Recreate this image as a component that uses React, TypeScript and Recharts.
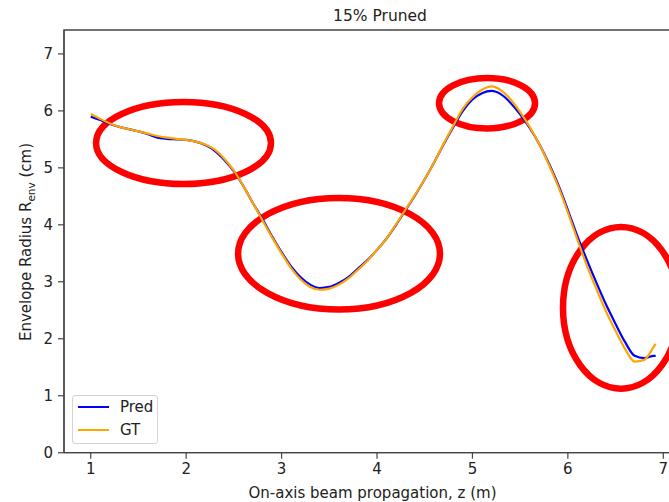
import { LineChart, Line, XAxis, YAxis, ReferenceArea } from 'recharts';

// z positions along the beam (m)
const zValues = [
  1.0, 1.1, 1.2, 1.3, 1.4, 1.5, 1.6, 1.7, 1.8, 1.9,
  2.0, 2.1, 2.2, 2.3, 2.4, 2.5, 2.6, 2.7, 2.8, 2.9,
  3.0, 3.1, 3.2, 3.3, 3.4, 3.5, 3.6, 3.7, 3.8, 3.9,
  4.0, 4.1, 4.2, 4.3, 4.4, 4.5, 4.6, 4.7, 4.8, 4.9,
  5.0, 5.1, 5.2, 5.3, 5.4, 5.5, 5.6, 5.7, 5.8, 5.9,
  6.0, 6.1, 6.2, 6.3, 6.4, 6.5, 6.6, 6.7, 6.8, 6.9, 6.92,
];

// predicted envelope radius (cm)
const predValues = [
  5.90, 5.84, 5.77, 5.72, 5.68, 5.64, 5.59, 5.53, 5.51, 5.50,
  5.49, 5.46, 5.40, 5.30, 5.14, 4.94, 4.68, 4.38, 4.10, 3.80,
  3.52, 3.27, 3.08, 2.95, 2.89, 2.91, 2.98, 3.08, 3.23, 3.38,
  3.56, 3.76, 4.00, 4.26, 4.52, 4.80, 5.10, 5.42, 5.72, 6.00,
  6.20, 6.31, 6.35, 6.29, 6.14, 5.94, 5.70, 5.42, 5.08, 4.70,
  4.26, 3.80, 3.38, 2.98, 2.60, 2.26, 1.94, 1.70, 1.66, 1.70, 1.70,
];

// ground truth envelope radius (cm)
const gtValues = [
  5.95, 5.86, 5.78, 5.72, 5.68, 5.64, 5.60, 5.56, 5.53, 5.51,
  5.49, 5.46, 5.41, 5.32, 5.16, 4.95, 4.68, 4.38, 4.08, 3.78,
  3.50, 3.24, 3.04, 2.91, 2.86, 2.88, 2.95, 3.06, 3.21, 3.37,
  3.56, 3.76, 4.01, 4.27, 4.53, 4.80, 5.10, 5.43, 5.74, 6.04,
  6.24, 6.37, 6.43, 6.36, 6.20, 5.98, 5.72, 5.42, 5.06, 4.67,
  4.22, 3.74, 3.28, 2.87, 2.48, 2.14, 1.82, 1.60, 1.63, 1.86, 1.91,
];

const xTicks = [1, 2, 3, 4, 5, 6, 7];
const yTicks = [0, 1, 2, 3, 4, 5, 6, 7];

// highlight ellipses: [z1, z2, r1, r2] bounding boxes in data units
const highlights = [
  [1.056, 2.889, 4.717, 6.157],
  [2.544, 4.66, 2.514, 4.472],
  [4.65, 5.656, 5.692, 6.578],
  [5.949, 7.165, 1.124, 3.962],
];

const X_DOMAIN: [number, number] = [0.72, 7.285];
const Y_DOMAIN: [number, number] = [0, 7.42];
const FONT = "'DejaVu Sans', sans-serif";

const data = zValues.map((z, i) => ({ z, pred: predValues[i], gt: gtValues[i] }));

const EllipseShape = (props: any) => {
  const { x, y, width, height } = props;
  return (
    <ellipse
      cx={x + width / 2}
      cy={y + height / 2}
      rx={Math.abs(width) / 2}
      ry={Math.abs(height) / 2}
      fill="none"
      stroke="#ff0000"
      strokeWidth={6.5}
    />
  );
};

const LegendBox = () => (
  <div
    style={{
      position: 'absolute',
      left: 72,
      top: 395,
      width: 86,
      height: 49,
      boxSizing: 'border-box',
      border: '1px solid #d4d4d4',
      borderRadius: 3,
      background: 'rgba(255,255,255,0.8)',
      fontSize: 15,
      color: '#222',
    }}
  >
    {[
      { name: 'Pred', color: '#0000ff', top: 11 },
      { name: 'GT', color: '#ffa500', top: 34 },
    ].map((item) => (
      <div key={item.name}>
        <div
          style={{
            position: 'absolute',
            left: 5,
            top: item.top - 1,
            width: 31,
            height: 2,
            background: item.color,
          }}
        />
        <div style={{ position: 'absolute', left: 47, top: item.top - 9, lineHeight: '18px' }}>
          {item.name}
        </div>
      </div>
    ))}
  </div>
);

export default function App() {
  return (
    <div
      style={{
        position: 'absolute',
        left: 0,
        top: 0,
        width: 669,
        height: 502,
        overflow: 'hidden',
        background: '#fff',
        fontFamily: FONT,
      }}
    >
      <div
        style={{
          position: 'absolute',
          left: 0,
          width: 760,
          top: 7,
          textAlign: 'center',
          fontSize: 15.5,
          color: '#222',
        }}
      >
        15% Pruned
      </div>
      <div
        style={{
          position: 'absolute',
          left: 0,
          width: 745,
          top: 484,
          textAlign: 'center',
          fontSize: 15,
          color: '#222',
          whiteSpace: 'nowrap',
        }}
      >
        On-axis beam propagation, z (m)
      </div>
      <div
        style={{
          position: 'absolute',
          left: 27,
          top: 242,
          transform: 'translate(-50%, -50%) rotate(-90deg)',
          fontSize: 15,
          color: '#222',
          whiteSpace: 'nowrap',
        }}
      >
        Envelope Radius R<sub style={{ fontSize: 10.5 }}>env</sub> (cm)
      </div>
      <LineChart
        width={700}
        height={502}
        data={data}
        margin={{ top: 30, right: 9.5, bottom: 19.3, left: 24 }}
      >
        <XAxis
          dataKey="z"
          type="number"
          domain={X_DOMAIN}
          ticks={xTicks}
          allowDataOverflow
          height={30}
          tickSize={6}
          tickMargin={5}
          tick={{ fill: '#222', fontSize: 15, fontFamily: FONT }}
          tickLine={{ stroke: '#444', strokeWidth: 1.2 }}
          axisLine={{ stroke: '#444', strokeWidth: 1.3 }}
        />
        <YAxis
          type="number"
          domain={Y_DOMAIN}
          ticks={yTicks}
          allowDataOverflow
          width={40}
          tickSize={6}
          tickMargin={5}
          tick={{ fill: '#222', fontSize: 15, fontFamily: FONT }}
          tickLine={{ stroke: '#444', strokeWidth: 1.2 }}
          axisLine={{ stroke: '#444', strokeWidth: 1.3 }}
        />
        <ReferenceArea
          x1={X_DOMAIN[0]}
          x2={X_DOMAIN[1]}
          y1={Y_DOMAIN[0]}
          y2={Y_DOMAIN[1]}
          fill="none"
          fillOpacity={0}
          stroke="#444"
          strokeWidth={1.3}
          ifOverflow="visible"
        />
        <Line
          type="monotone"
          dataKey="pred"
          name="Pred"
          stroke="#0000ff"
          strokeWidth={2.2}
          dot={false}
          isAnimationActive={false}
        />
        <Line
          type="monotone"
          dataKey="gt"
          name="GT"
          stroke="#ffa500"
          strokeWidth={2.2}
          dot={false}
          isAnimationActive={false}
        />
        {highlights.map(([x1, x2, y1, y2], i) => (
          <ReferenceArea
            key={`ellipse-${i}`}
            x1={x1}
            x2={x2}
            y1={y1}
            y2={y2}
            ifOverflow="visible"
            shape={<EllipseShape />}
          />
        ))}
      </LineChart>
      <LegendBox />
    </div>
  );
}
